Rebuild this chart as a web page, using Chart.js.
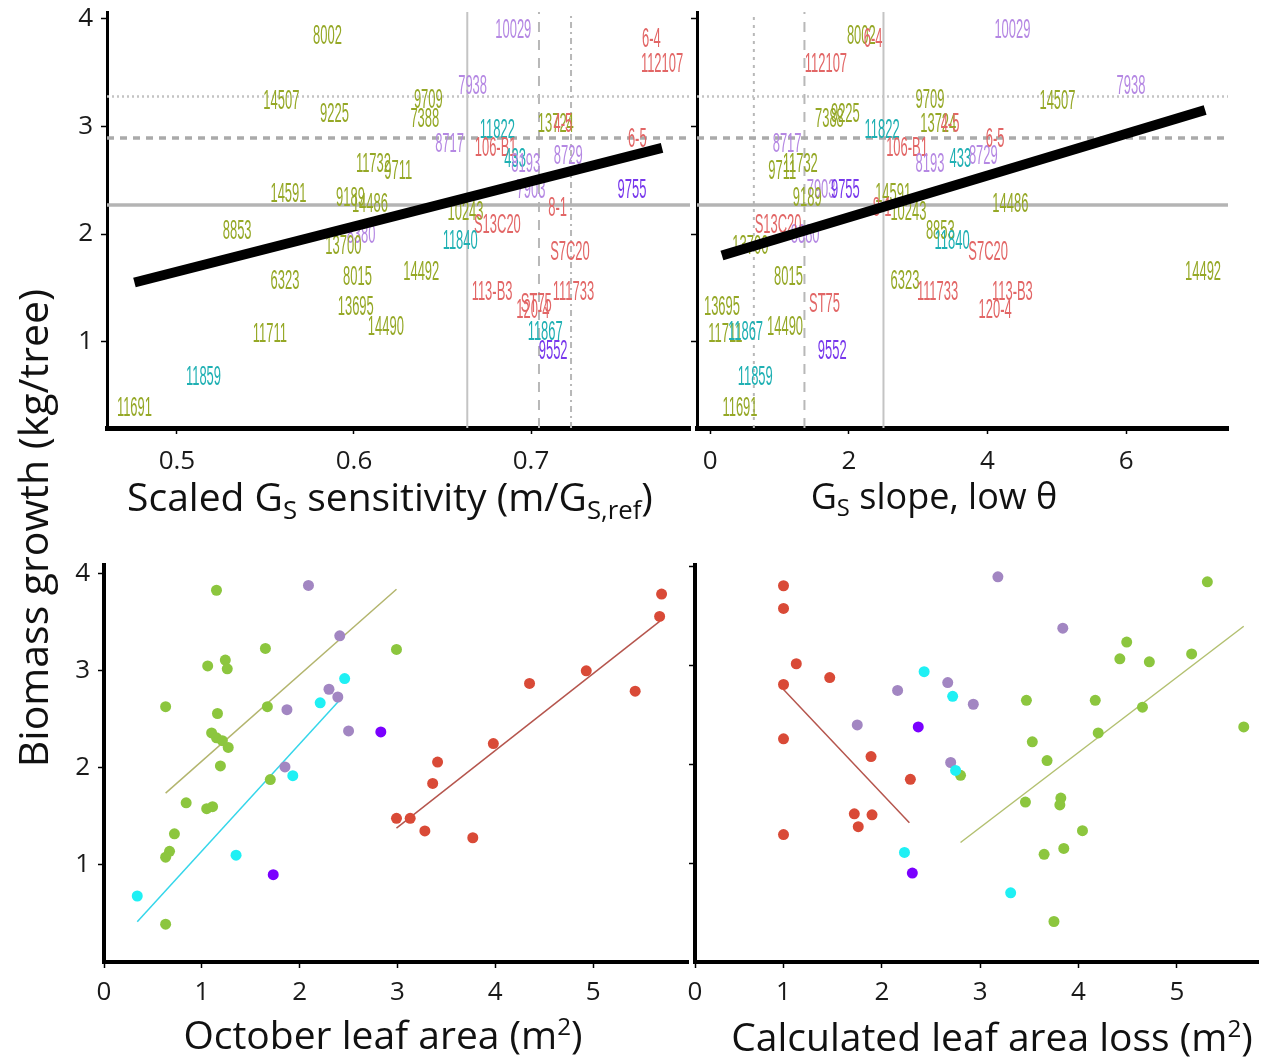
<!DOCTYPE html>
<html><head><meta charset="utf-8">
<script src="https://cdn.jsdelivr.net/npm/chart.js@4.4.0/dist/chart.umd.min.js"></script>
<style>
html,body{margin:0;padding:0;background:#fff;width:1264px;height:1063px;overflow:hidden;position:relative;}
canvas{position:absolute;}
.t{position:absolute;color:#111;white-space:nowrap;font-family:'Open Sans',sans-serif;text-align:center;width:800px;}
.t sub{font-size:0.66em;vertical-align:-0.3em;line-height:0;}
.t sup{font-size:0.62em;vertical-align:0.6em;line-height:0;}
</style></head><body>
<canvas id="c1" width="720" height="480" style="left:0;top:0"></canvas>
<canvas id="c2" width="614" height="480" style="left:650px;top:0"></canvas>
<canvas id="c3" width="720" height="523" style="left:0;top:540px"></canvas>
<canvas id="c4" width="614" height="523" style="left:650px;top:540px"></canvas>
<div class="t" style="left:-10px;top:469px;font-size:39px">Scaled G<sub>S</sub> sensitivity (m/G<sub>S,ref</sub>)</div>
<div class="t" style="left:534px;top:471px;font-size:36px">G<sub>S</sub> slope, low θ</div>
<div class="t" style="left:-17px;top:1007px;font-size:39px">October leaf area (m<sup>2</sup>)</div>
<div class="t" style="left:592px;top:1009px;font-size:39px">Calculated leaf area loss (m<sup>2</sup>)</div>
<div class="t" style="left:-368px;top:500px;font-size:41px;transform:rotate(-90deg);">Biomass growth (kg/tree)</div>
<script>
// ---------- top panels: genotype labels ----------
const genotypes = ['8002','10029','6-4','112107','14507','9225','9709','7388','7938','11822','13724','4-5','8717','106-B1','433','8193','8729','6-5','7903','11732','9711','14591','9189','14486','9755','8-1','10243','8853','8380','13700','S13C20','11840','S7C20','6323','8015','14492','113-B3','120-4','ST75','111733','13695','14490','11711','11867','9552','11859','11691'];
const genoGroup = ['G','P','R','R','G','G','G','G','P','T','G','R','P','R','T','P','P','R','P','G','G','G','G','G','V','R','G','G','P','G','R','T','R','G','G','G','R','R','R','R','G','G','G','T','V','T','G'];
const gsSensitivity = [0.585,0.690,0.768,0.774,0.559,0.589,0.642,0.640,0.667,0.681,0.714,0.718,0.654,0.680,0.691,0.697,0.721,0.760,0.700,0.611,0.625,0.563,0.598,0.609,0.757,0.715,0.663,0.534,0.604,0.594,0.681,0.660,0.722,0.561,0.602,0.638,0.678,0.701,0.703,0.724,0.601,0.618,0.5525,0.708,0.7125,0.515,0.476];
const gsSlope = [2.18,4.36,2.35,1.67,5.01,1.95,3.17,1.72,6.07,2.48,3.29,3.46,1.11,2.84,3.61,3.17,3.94,4.11,1.60,1.30,1.04,2.64,1.40,4.33,1.95,2.48,2.86,3.32,1.37,0.58,0.98,3.49,4.01,2.81,1.13,7.11,4.36,4.11,1.65,3.28,0.17,1.08,0.22,0.51,1.76,0.65,0.43];
const biomassTop = [3.83,3.89,3.80,3.57,3.23,3.11,3.24,3.06,3.37,2.96,3.02,3.02,2.83,2.79,2.69,2.64,2.72,2.88,2.40,2.64,2.58,2.37,2.33,2.27,2.40,2.24,2.20,2.02,1.99,1.88,2.08,1.93,1.83,1.56,1.60,1.64,1.46,1.29,1.35,1.46,1.32,1.13,1.07,1.09,0.91,0.67,0.385];

// reference lines (biomass thresholds and x thresholds)
const biomassRefSolid = 2.27, biomassRefDash = 2.89, biomassRefDot = 3.275;
const sensRefSolid = 0.664, sensRefDash = 0.7045, sensRefDot = 0.7226;
const slopeRefSolid = 2.50, slopeRefDash = 1.36, slopeRefDot = 0.63;
// overall regression lines
const sensFitX = [0.476, 0.774], sensFitY = [1.55, 2.80];
const slopeFitX = [0.17, 7.14], slopeFitY = [1.80, 3.15];

// ---------- bottom-left: October leaf area ----------
const octGreenX = [1.15,1.65,1.06,1.24,1.26,0.63,1.16,1.67,1.10,1.15,1.21,1.27,1.19,1.70,0.84,1.05,1.11,0.72,0.67,0.63,0.63,2.99];
const octGreenY = [3.83,3.23,3.05,3.11,3.02,2.63,2.56,2.63,2.36,2.31,2.28,2.21,2.02,1.88,1.64,1.58,1.60,1.32,1.14,1.08,0.39,3.22];
const octPurpleX = [2.09,2.41,2.30,2.39,1.87,2.50,1.85];
const octPurpleY = [3.88,3.36,2.81,2.73,2.60,2.38,2.01];
const octCyanX = [2.46,2.21,1.93,1.35,0.34];
const octCyanY = [2.92,2.67,1.92,1.10,0.68];
const octVioletX = [2.83,1.73];
const octVioletY = [2.37,0.90];
const octRedX = [5.70,5.68,4.93,4.35,5.43,3.98,3.41,3.36,2.99,3.13,3.28,3.77];
const octRedY = [3.79,3.56,3.00,2.87,2.79,2.25,2.06,1.84,1.48,1.48,1.35,1.28];
const octFitGreenX = [0.63,2.99], octFitGreenY = [1.74,3.84];
const octFitCyanX = [0.34,2.41], octFitCyanY = [0.415,2.70];
const octFitRedX = [2.99,5.68], octFitRedY = [1.38,3.51];

// ---------- bottom-right: calculated leaf area loss ----------
const lossRedX = [1.0,1.0,1.13,1.47,1.0,1.0,1.89,2.29,1.72,1.90,1.76,1.0];
const lossRedY = [3.81,3.58,3.02,2.88,2.81,2.26,2.08,1.85,1.50,1.49,1.37,1.29];
const lossCyanX = [2.43,2.72,2.75,2.23,3.31];
const lossCyanY = [2.94,2.69,1.94,1.11,0.70];
const lossPurpleX = [2.16,2.67,2.93,1.75,2.70,3.18,3.84];
const lossPurpleY = [2.75,2.83,2.61,2.40,2.02,3.90,3.38];
const lossVioletX = [2.37,2.31];
const lossVioletY = [2.38,0.90];
const lossGreenX = [2.80,5.31,4.49,4.42,4.72,5.15,3.47,4.17,4.65,4.20,5.68,3.53,3.68,3.46,3.82,3.81,4.04,3.65,3.85,3.75];
const lossGreenY = [1.89,3.85,3.24,3.07,3.04,3.12,2.65,2.65,2.58,2.32,2.38,2.23,2.04,1.62,1.66,1.59,1.33,1.09,1.15,0.41];
const lossFitRedX = [1.0,2.28], lossFitRedY = [2.76,1.41];
const lossFitGreenX = [2.80,5.68], lossFitGreenY = [1.21,3.40];

// ---------- tick values ----------
const biomassTicks = [1,2,3,4];
const sensTicks = [0.5,0.6,0.7];
const slopeTicks = [0,2,4,6];
const octTicks = [0,1,2,3,4,5];
const lossTicks = [0.1,1,2,3,4,5];

// ---------- styling ----------
const textColor = {G:'#95a826', P:'#b588e3', T:'#1fb0b3', V:'#7838ec', R:'#e26666'};
const dotColor = {G:'#8cc63e', P:'#a286c2', T:'#1ff0f4', V:'#7a00ff', R:'#d94a37'};

const zip = (xs, ys) => xs.map((x,i)=>({x, y: ys[i]}));

const textLabelPlugin = {
  id:'textLabels',
  afterDatasetDraw(chart, args){
    const ds = chart.data.datasets[args.index];
    if (!ds.textLabels) return;
    const ctx = chart.ctx;
    ctx.save();
    ctx.font = '27px "Liberation Sans", Arial, sans-serif';
    ctx.textAlign = 'center'; ctx.textBaseline = 'middle';
    args.meta.data.forEach((el, j) => {
      ctx.save();
      ctx.translate(el.x, el.y);
      ctx.scale(0.48, 1);
      ctx.fillStyle = ds.textColors[j];
      ctx.fillText(ds.textLabels[j], 0, 0);
      ctx.restore();
    });
    ctx.restore();
  }
};

function scale(o){
  return {
    type:'linear', min:o.min, max:o.max,
    afterBuildTicks: s => { s.ticks = o.ticks.map(v=>({value:v})); },
    afterFit: s => {
      if (o.horizontal) s.height = o.size; else s.width = o.size;
      s.paddingTop = 0; s.paddingBottom = 0; s.paddingLeft = 0; s.paddingRight = 0;
    },
    ticks:{ display:o.show, color:'#1a1a1a', font:{family:'Open Sans', size:26}, padding:o.pad,
            autoSkip:false, maxRotation:0, callback: v => o.fmt ? o.fmt(v) : String(v) },
    grid:{ display:true, drawOnChartArea:false, drawTicks:true, tickLength:o.tickLen||6, color:'#000', tickColor:'#000', tickWidth:1.5 },
    border:{ display:true, color:'#000', width:o.bw||4 }
  };
}

function line(xs, ys, color, width, dash, order){
  return { type:'line', data: zip(xs, ys), borderColor: color, borderWidth: width, borderDash: dash || [],
           pointRadius:0, fill:false, tension:0, order: order, borderCapStyle:'butt' };
}

function baseOptions(pad, xs, ys){
  return {
    responsive:false, animation:false, events:[],
    layout:{ padding: pad },
    plugins:{ legend:{display:false}, tooltip:{enabled:false} },
    scales:{ x: xs, y: ys }
  };
}

// Top-left
(function(){
  const yMin = 0.2, yMax = 4.06, xMin = 0.4605, xMax = 0.7898;
  const datasets = [
    line(sensFitX, sensFitY, '#000', 10, [], 0),
    { type:'scatter', data: zip(gsSensitivity, biomassTop), pointRadius:0, order:1,
      textLabels: genotypes, textColors: genoGroup.map(g=>textColor[g]) },
    line([xMin,xMax],[biomassRefSolid,biomassRefSolid], '#b4b4b4', 3.5, [], 2),
    line([xMin,xMax],[biomassRefDash,biomassRefDash], '#aaaaaa', 3.5, [7,6], 2),
    line([xMin,xMax],[biomassRefDot,biomassRefDot], '#c4c4c4', 2.5, [2,3], 2),
    line([sensRefSolid,sensRefSolid],[yMin,yMax], '#c4c4c4', 2, [], 2),
    line([sensRefDash,sensRefDash],[yMin,yMax], '#b8b8b8', 2, [10,8], 2),
    line([sensRefDot,sensRefDot],[yMin,yMax], '#b8b8b8', 2, [6,4,2,4], 2)
  ];
  new Chart(document.getElementById('c1'), {
    type:'scatter', data:{datasets}, plugins:[textLabelPlugin],
    options: baseOptions({top:12,right:30,left:0,bottom:0},
      scale({min:xMin,max:xMax,ticks:sensTicks,show:true,horizontal:true,size:52,pad:12,bw:5}),
      scale({min:yMin,max:yMax,ticks:biomassTicks,show:true,size:107,pad:8,bw:3}))
  });
})();

// Top-right
(function(){
  const yMin = 0.2, yMax = 4.06, xMin = -0.19, xMax = 7.47;
  const datasets = [
    line(slopeFitX, slopeFitY, '#000', 10, [], 0),
    { type:'scatter', data: zip(gsSlope, biomassTop), pointRadius:0, order:1,
      textLabels: genotypes, textColors: genoGroup.map(g=>textColor[g]) },
    line([xMin,xMax],[biomassRefSolid,biomassRefSolid], '#b4b4b4', 3.5, [], 2),
    line([xMin,xMax],[biomassRefDash,biomassRefDash], '#aaaaaa', 3.5, [7,6], 2),
    line([xMin,xMax],[biomassRefDot,biomassRefDot], '#c4c4c4', 2.5, [2,3], 2),
    line([slopeRefSolid,slopeRefSolid],[yMin,yMax], '#c4c4c4', 2, [], 2),
    line([slopeRefDash,slopeRefDash],[yMin,yMax], '#b8b8b8', 2, [10,8], 2),
    line([slopeRefDot,slopeRefDot],[yMin,yMax], '#b8b8b8', 2, [3,5], 2)
  ];
  new Chart(document.getElementById('c2'), {
    type:'scatter', data:{datasets}, plugins:[textLabelPlugin],
    options: baseOptions({top:12,right:36,left:0,bottom:0},
      scale({min:xMin,max:xMax,ticks:slopeTicks,show:true,horizontal:true,size:52,pad:12,bw:5}),
      scale({min:yMin,max:yMax,ticks:biomassTicks,show:false,size:47,bw:3}))
  });
})();

function dots(xs, ys, color){
  return { type:'scatter', data: zip(xs, ys), pointRadius:5.5, pointBackgroundColor:color,
           pointBorderColor:color, pointBorderWidth:0, order:0 };
}

// Bottom-left
(function(){
  const datasets = [
    dots(octGreenX, octGreenY, dotColor.G),
    dots(octPurpleX, octPurpleY, dotColor.P),
    dots(octCyanX, octCyanY, dotColor.T),
    dots(octVioletX, octVioletY, dotColor.V),
    dots(octRedX, octRedY, dotColor.R),
    line(octFitGreenX, octFitGreenY, '#b3b56e', 1.5, [], 1),
    line(octFitCyanX, octFitCyanY, '#35d6ea', 1.5, [], 1),
    line(octFitRedX, octFitRedY, '#b5554d', 1.5, [], 1)
  ];
  new Chart(document.getElementById('c3'), {
    type:'scatter', data:{datasets},
    options: baseOptions({top:25,right:32,left:0,bottom:0},
      scale({min:0,max:5.97,ticks:octTicks,show:true,horizontal:true,size:101,pad:9,bw:4}),
      scale({min:0,max:4.09,ticks:biomassTicks,show:true,size:104,pad:8,bw:4}))
  });
})();

// Bottom-right
(function(){
  const datasets = [
    dots(lossRedX, lossRedY, dotColor.R),
    dots(lossCyanX, lossCyanY, dotColor.T),
    dots(lossPurpleX, lossPurpleY, dotColor.P),
    dots(lossVioletX, lossVioletY, dotColor.V),
    dots(lossGreenX, lossGreenY, dotColor.G),
    line(lossFitRedX, lossFitRedY, '#b5554d', 1.5, [], 1),
    line(lossFitGreenX, lossFitGreenY, '#b3c070', 1.5, [], 1)
  ];
  new Chart(document.getElementById('c4'), {
    type:'scatter', data:{datasets},
    options: baseOptions({top:25,right:0,left:0,bottom:0},
      scale({min:0.1,max:5.83,ticks:lossTicks,show:true,horizontal:true,size:101,pad:9,bw:4,fmt:v=>String(Math.round(v))}),
      scale({min:0,max:4.02,ticks:biomassTicks,show:false,size:45,bw:4}))
  });
})();
</script>
</body></html>
